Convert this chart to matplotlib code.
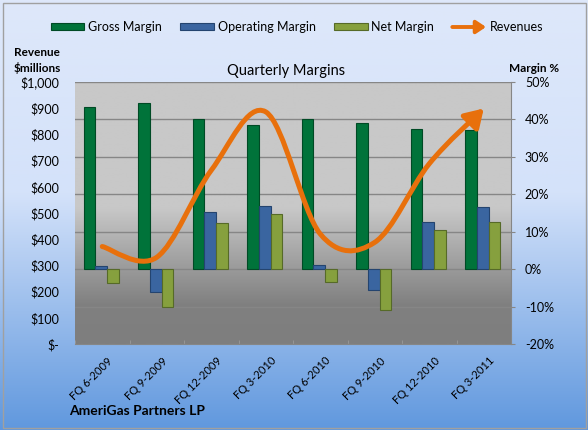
# Quarterly margins with revenue line - AmeriGas Partners LP
import numpy as np
import matplotlib
matplotlib.use('Agg')
import matplotlib.pyplot as plt
from matplotlib.path import Path
from matplotlib.patches import FancyArrowPatch, Rectangle
from matplotlib.legend_handler import HandlerBase
from matplotlib.ticker import FuncFormatter, MultipleLocator
from matplotlib.transforms import ScaledTranslation

plt.rcParams['font.family'] = ['Lato', 'DejaVu Sans']

# data
quarters = ['FQ 6-2009', 'FQ 9-2009', 'FQ 12-2009', 'FQ 3-2010',
            'FQ 6-2010', 'FQ 9-2010', 'FQ 12-2010', 'FQ 3-2011']
gross_margin = [43.2, 44.3, 40.1, 38.6, 40.2, 39.1, 37.5, 37.2]
operating_margin = [0.9, -6.1, 15.4, 17.0, 1.1, -5.6, 12.6, 16.7]
net_margin = [-3.8, -10.2, 12.4, 14.8, -3.4, -11.0, 10.4, 12.6]
revenues = [372, 331, 663, 886, 420, 388, 688, 899]

gm_color, gm_edge = '#00733A', '#004A25'
om_color, om_edge = '#3A65A0', '#24446F'
nm_color, nm_edge = '#86A03E', '#566A28'
rev_color = '#E8700C'

W, H = 588, 430
fig = plt.figure(figsize=(W / 100, H / 100), dpi=100)

# figure background gradient (light blue to blue)
bg = fig.add_axes([0, 0, 1, 1], zorder=-10)
t = np.linspace(0, 1, 256)
stops = [0, 0.45, 1]
r = np.interp(t, stops, [222, 212, 96])
g = np.interp(t, stops, [232, 226, 152])
b = np.interp(t, stops, [250, 250, 222])
img = np.stack([r, g, b], axis=1)[:, None, :] / 255
bg.imshow(img, aspect='auto', extent=[0, 1, 0, 1])
bg.axis('off')
fig.patches.append(Rectangle((2.5 / W, 2.5 / H), 583 / W, 425 / H,
                             transform=fig.transFigure, fill=False,
                             ec='#A0A0A0', lw=1))

ax = fig.add_axes([75 / W, (H - 344) / H, 436 / W, 262 / H])
ax2 = ax.twinx()

# plot area gradient
pg = np.interp(t, [0, 0.48, 0.85, 1], [200, 200, 128, 126]) / 255
pimg = np.stack([pg, pg, pg], axis=1)[:, None, :]
ax.imshow(pimg, aspect='auto', extent=[0, 1, 0, 1], transform=ax.transAxes, zorder=0)

x = np.arange(len(quarters))
bw = 0.215
ax.bar(x - 0.235, gross_margin, bw, color=gm_color, edgecolor=gm_edge, lw=0.8,
       zorder=3, label='Gross Margin')
ax.bar(x - 0.02, operating_margin, bw, color=om_color, edgecolor=om_edge, lw=0.8,
       zorder=3, label='Operating Margin')
ax.bar(x + 0.195, net_margin, bw, color=nm_color, edgecolor=nm_edge, lw=0.8,
       zorder=3, label='Net Margin')

ax.set_xlim(-0.5, len(quarters) - 0.5)
ax.set_ylim(-20, 50)
ax.yaxis.set_major_locator(MultipleLocator(10))
ax.yaxis.set_major_formatter(FuncFormatter(lambda v, _: f'{v:.0f}%'))
ax.yaxis.tick_right()
ax.grid(axis='y', color='#868686', lw=1, zorder=1)
ax.set_axisbelow(True)
ax.tick_params(axis='y', right=True, left=False, length=3, color='#868686',
               pad=7, labelsize=9)
ax.set_xticks(x)
ax.set_xticklabels(quarters, rotation=45, ha='right', rotation_mode='anchor',
                   fontsize=8)
ax.tick_params(axis='x', length=0, pad=8)
shift = ScaledTranslation(5 / 100, 0, fig.dpi_scale_trans)
for lbl in ax.get_xticklabels():
    lbl.set_transform(lbl.get_transform() + shift)
ax.set_xticks(np.arange(len(quarters) + 1) - 0.5, minor=True)
ax.tick_params(axis='x', which='minor', direction='in', length=3, color='#9A9A9A')
for s in ['left', 'top']:
    ax.spines[s].set_visible(False)
for s in ['right', 'bottom']:
    ax.spines[s].set_color('#868686')

# revenue axis on the left
ax2.set_ylim(0, 1000)
ax2.yaxis.tick_left()
ax2.yaxis.set_major_locator(MultipleLocator(100))
ax2.yaxis.set_major_formatter(FuncFormatter(lambda v, _: '$-' if v == 0 else f'${v:,.0f}'))
ax2.tick_params(axis='y', left=True, right=False, length=0, pad=11.5, labelsize=9)
for s in ax2.spines.values():
    s.set_visible(False)

# smoothed revenue line (Bezier through the points) with arrow head
pts = np.column_stack([x, revenues]).astype(float)
verts = [pts[0]]
codes = [Path.MOVETO]
n = len(pts)
for i in range(n - 1):
    p0 = pts[i - 1] if i > 0 else pts[0]
    p1, p2 = pts[i], pts[i + 1]
    p3 = pts[i + 2] if i + 2 < n else pts[-1]
    verts += [p1 + (p2 - p0) / 6, p2 - (p3 - p1) / 6, p2]
    codes += [Path.CURVE4] * 3
rev_path = Path(verts, codes)
rev_arrow = FancyArrowPatch(path=rev_path, arrowstyle='-|>,head_length=0.4,head_width=0.25',
                            mutation_scale=27, color=rev_color, lw=3.6,
                            transform=ax2.transData, zorder=5)
ax2.add_patch(rev_arrow)


class ArrowHandler(HandlerBase):
    def create_artists(self, legend, orig_handle, xdescent, ydescent, width,
                       height, fontsize, trans):
        y = (height - ydescent) / 2
        a = FancyArrowPatch((-xdescent, y), (width - xdescent, y),
                            arrowstyle='-|>,head_length=0.45,head_width=0.3',
                            mutation_scale=fontsize * 1.4, color=rev_color, lw=2.8,
                            shrinkA=0, shrinkB=0)
        a.set_transform(trans)
        return [a]


handles, labels = ax.get_legend_handles_labels()
handles.append(rev_arrow)
labels.append('Revenues')
fig.legend(handles, labels, loc='center', bbox_to_anchor=(297 / W, 1 - 27 / H),
           ncol=4, frameon=False, fontsize=9, handlelength=2.7, handleheight=0.5,
           handletextpad=0.3, columnspacing=1.45,
           handler_map={FancyArrowPatch: ArrowHandler()})

fig.text(37 / W, 1 - 60.5 / H, 'Revenue\n$millions', ha='center', va='center',
         fontsize=8.5, fontweight='bold', linespacing=1.35)
fig.text(534 / W, 1 - 69 / H, 'Margin %', ha='center', va='center',
         fontsize=8.5, fontweight='bold')
fig.text(286 / W, 1 - 71 / H, 'Quarterly Margins', ha='center', va='center',
         fontsize=10.5)
fig.text(69 / W, 1 - 410.7 / H, 'AmeriGas Partners LP', ha='left', va='center',
         fontsize=10, fontweight='bold')

fig.savefig('out.png', dpi=100)
